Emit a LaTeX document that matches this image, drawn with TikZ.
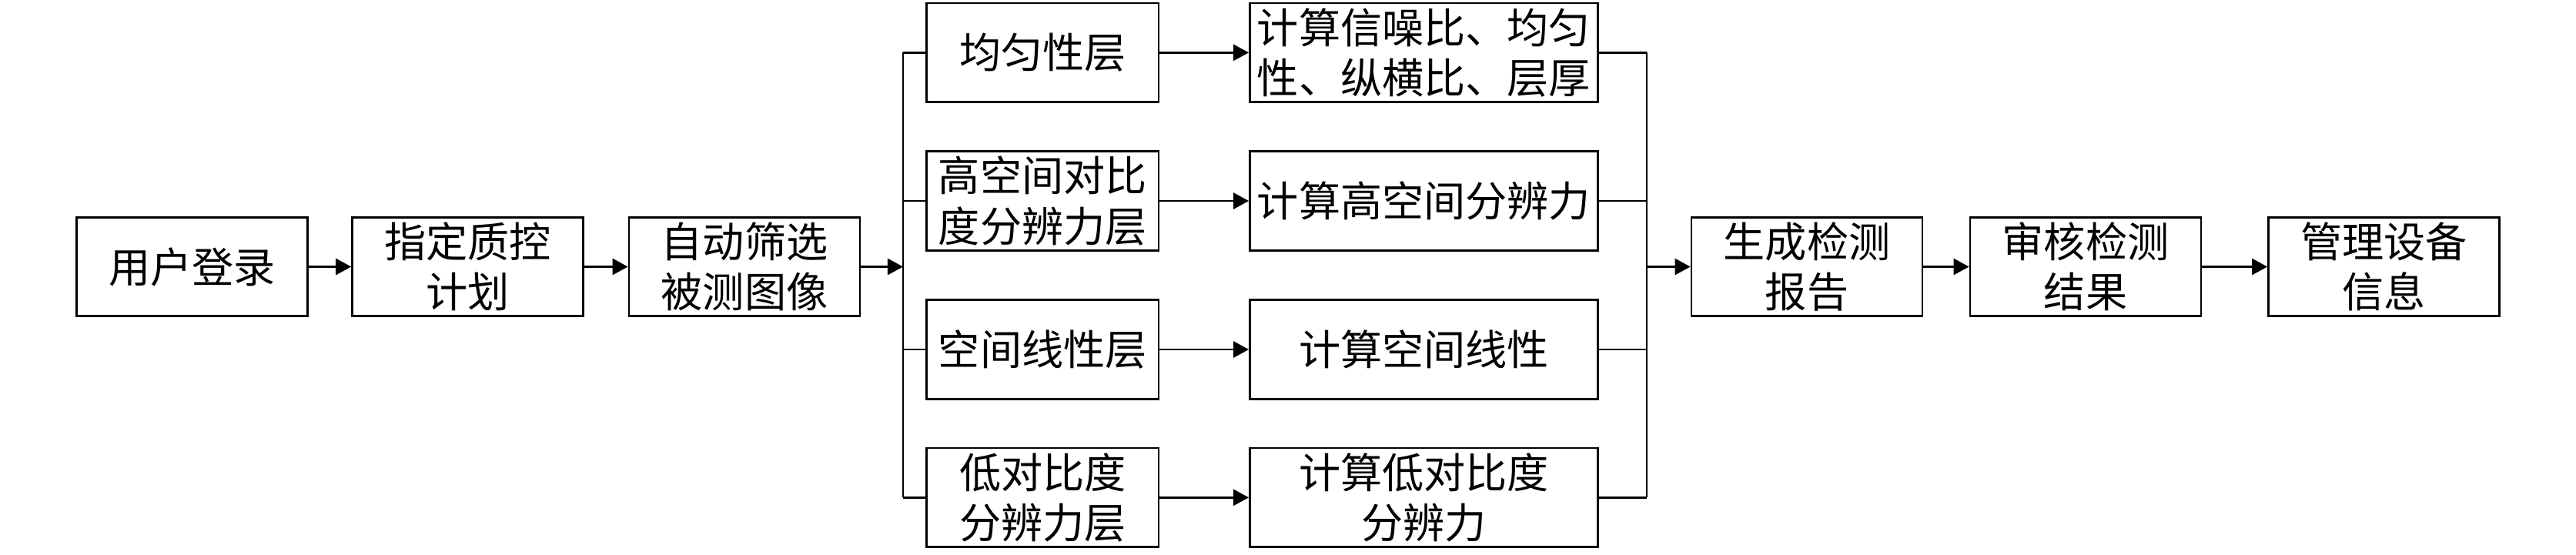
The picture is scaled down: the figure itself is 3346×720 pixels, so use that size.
\documentclass[tikz,border=0pt]{standalone}
\usepackage{fontspec}
\newfontfamily\cjk{Noto Sans CJK SC}
\usetikzlibrary{arrows.meta}
\begin{document}
\begin{tikzpicture}[x=0.01cm,y=-0.01cm,
  box/.style={draw,line width=0.75pt,inner sep=0pt,align=center,
    font=\cjk\fontsize{15.4pt}{18.6pt}\selectfont,minimum height=1.285cm},
  sbox/.style={box,minimum width=3.0cm},
  lbox/.style={box,minimum width=3.01cm},
  cbox/.style={box,minimum width=4.52cm},
  ln/.style={line width=0.75pt},
  arr/.style={ln,-{Triangle[length=5.7pt,width=6pt]}}]
\useasboundingbox (0,0) rectangle (3346,720);
% main row
\node[sbox] (login) at (249.5,346.5) {用户登录};
\node[sbox] (plan) at (607.6,346.5) {指定质控\\计划};
\node[sbox] (filter) at (967,346.5) {自动筛选\\被测图像};
% layers
\node[lbox] (l1) at (1354.3,68.3) {均匀性层};
\node[lbox] (l2) at (1354.3,261) {高空间对比\\度分辨力层};
\node[lbox] (l3) at (1354.3,454) {空间线性层};
\node[lbox] (l4) at (1354.3,646.3) {低对比度\\分辨力层};
% calcs
\node[cbox] (c1) at (1849.5,68.3) {计算信噪比、均匀\\性、纵横比、层厚};
\node[cbox] (c2) at (1849.5,261) {计算高空间分辨力};
\node[cbox] (c3) at (1849.5,454) {计算空间线性};
\node[cbox] (c4) at (1849.5,646.3) {计算低对比度\\分辨力};
% right row
\node[sbox] (report) at (2347,346.5) {生成检测\\报告};
\node[sbox] (review) at (2709,346.5) {审核检测\\结果};
\node[sbox] (manage) at (3096.5,346.5) {管理设备\\信息};
% buses
\coordinate (bl) at (1173,346.5);
\coordinate (br) at (2139,346.5);
\coordinate (blt) at (1173,68.3);
\coordinate (blb) at (1173,646.3);
\coordinate (brt) at (2139,68.3);
\coordinate (brb) at (2139,646.3);
\draw[ln] (blt) -- (blb);
\draw[ln] (brt) -- (brb);
\draw[arr] (login) -- (plan);
\draw[arr] (plan) -- (filter);
\draw[arr] (filter) -- (bl);
\foreach \i in {1,2,3,4}{
  \draw[ln] (blt |- l\i) -- (l\i.west);
  \draw[arr] (l\i) -- (c\i);
  \draw[ln] (c\i.east) -- (brt |- c\i);
}
\draw[arr] (br) -- (report);
\draw[arr] (report) -- (review);
\draw[arr] (review) -- (manage);
\end{tikzpicture}
\end{document}
